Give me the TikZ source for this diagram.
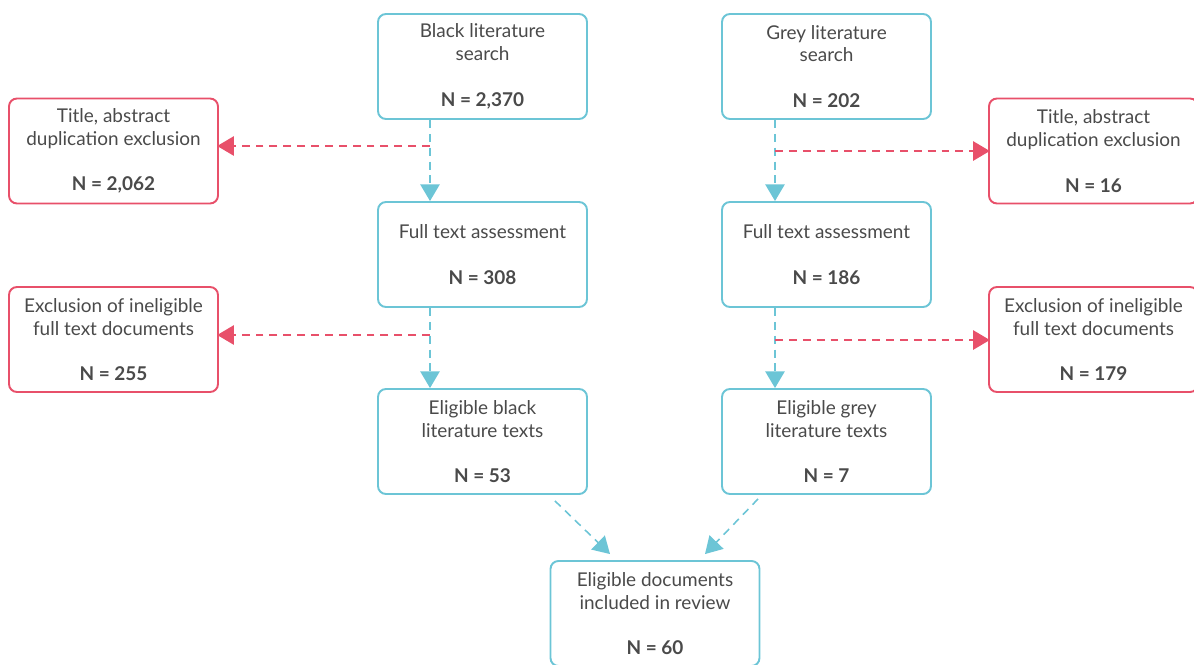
\documentclass[tikz,border=0pt]{standalone}
\usepackage{fontspec}
\setmainfont{Lato}
\usetikzlibrary{arrows.meta}
\definecolor{flowblue}{HTML}{6CC5D6}
\definecolor{exclred}{HTML}{E8506A}
\definecolor{txtgrey}{HTML}{4A4A4A}
\tikzset{
  stagebox/.style={draw=flowblue, line width=1.1pt, rounded corners=4.5pt,
    minimum width=4.18cm, minimum height=2.1cm, align=center,
    text=txtgrey, font=\fontsize{10.8}{13}\selectfont, inner sep=2pt},
  exclbox/.style={stagebox, draw=exclred},
  flow/.style={flowblue, line width=0.9pt, dash pattern=on 4.5pt off 3.4pt,
    -{Triangle[width=11pt,length=9.5pt]}},
  excl/.style={flow, exclred}
}
\begin{document}
\begin{tikzpicture}[x=0.02cm,y=-0.02cm]
  \useasboundingbox (0,0) rectangle (1194,664);
  % left column: black literature
  \node[stagebox] (bls) at (482.5,66.5) {Black literature\\search\\[13pt]\textbf{N = 2,370}};
  \node[stagebox] (ftl) at (482.5,254.5) {Full text assessment\\[13pt]\textbf{N = 308}};
  \node[stagebox] (ebl) at (482.5,441.5) {Eligible black\\literature texts\\[13pt]\textbf{N = 53}};
  \node[exclbox] (tal) at (113.5,151) {Title, abstract\\duplication exclusion\\[13pt]\textbf{N = 2,062}};
  \node[exclbox] (eil) at (113.5,339.5) {Exclusion of ineligible\\full text documents\\[13pt]\textbf{N = 255}};
  % right column: grey literature
  \node[stagebox] (gls) at (826.5,66.5) {Grey literature\\search\\[13pt]\textbf{N = 202}};
  \node[stagebox] (ftr) at (826.5,254.5) {Full text assessment\\[13pt]\textbf{N = 186}};
  \node[stagebox] (egr) at (826.5,441.5) {Eligible grey\\literature texts\\[13pt]\textbf{N = 7}};
  \node[exclbox] (tar) at (1093.5,151) {Title, abstract\\duplication exclusion\\[13pt]\textbf{N = 16}};
  \node[exclbox] (eir) at (1093.5,339.5) {Exclusion of ineligible\\full text documents\\[13pt]\textbf{N = 179}};
  % final
  \node[stagebox] (fin) at (655,613.5) {Eligible documents\\included in review\\[13pt]\textbf{N = 60}};
  % branch points
  \coordinate (bl1) at (430,146);
  \coordinate (bl2) at (430,335);
  \coordinate (gr1) at (775,151);
  \coordinate (gr2) at (775,340);
  \draw[flow] (bls.south -| bl1) -- (ftl.north -| bl1);
  \draw[flow] (ftl.south -| bl2) -- (ebl.north -| bl2);
  \draw[flow] (gls.south -| gr1) -- (ftr.north -| gr1);
  \draw[flow] (ftr.south -| gr2) -- (egr.north -| gr2);
  \draw[excl] (bl1) -- ([xshift=-1pt]tal.east |- bl1);
  \draw[excl] (bl2) -- ([xshift=-1pt]eil.east |- bl2);
  \draw[excl] (gr1) -- ([xshift=1pt]tar.west |- gr1);
  \draw[excl] (gr2) -- ([xshift=1pt]eir.west |- gr2);
  \draw[flow] ([xshift=1.45cm,yshift=-0.12cm]ebl.south) -- ([xshift=-0.9cm,yshift=0.12cm]fin.north);
  \draw[flow] ([xshift=-1.37cm,yshift=-0.08cm]egr.south) -- ([xshift=1cm,yshift=0.12cm]fin.north);
\end{tikzpicture}
\end{document}
